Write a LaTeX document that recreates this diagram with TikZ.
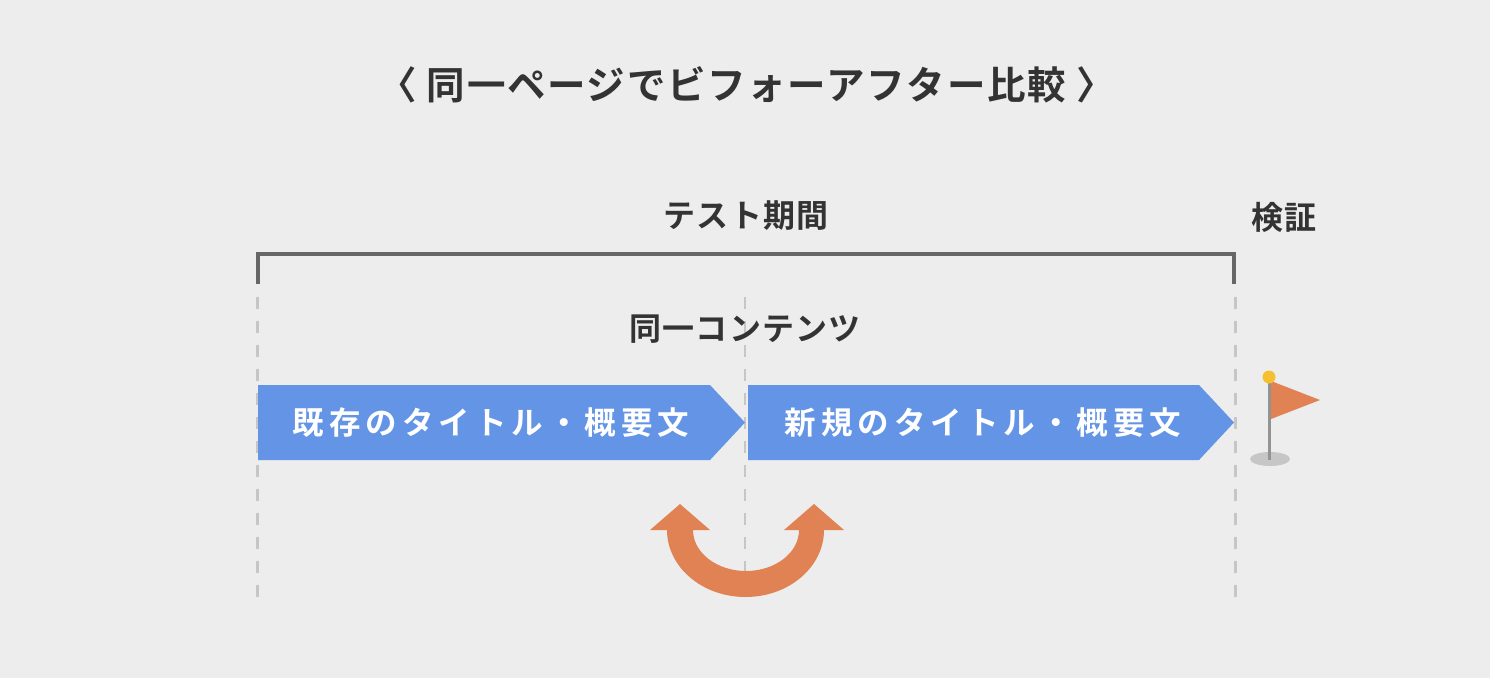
\documentclass[tikz,border=0pt]{standalone}
\usepackage{fontspec}
\usepackage{xcolor}
\usetikzlibrary{shapes.symbols}
\setmainfont{Noto Sans CJK JP}
\newfontfamily\titlefont[LetterSpace=4.4,BoldFont={Noto Sans CJK JP Bold}]{Noto Sans CJK JP}
\newfontfamily\headfont[LetterSpace=4,BoldFont={Noto Sans CJK JP Bold}]{Noto Sans CJK JP}
\newfontfamily\barfont[LetterSpace=16,BoldFont={Noto Sans CJK JP Bold}]{Noto Sans CJK JP}
\definecolor{pagegray}{HTML}{EDEDED}
\definecolor{barblue}{HTML}{6394E6}
\definecolor{swaporange}{HTML}{E08254}
\definecolor{inkgray}{HTML}{333333}
\definecolor{rulegray}{HTML}{666666}
\definecolor{guidegray}{HTML}{C6C6C6}
\definecolor{poleyellow}{HTML}{F5C030}

\begin{document}
\begin{tikzpicture}[
  x=1pt, y=1pt,
  heading/.style={text=inkgray, inner sep=0pt, font=\headfont\bfseries\fontsize{32}{36}\selectfont},
  titletext/.style={text=inkgray, inner sep=0pt, font=\titlefont\bfseries\fontsize{38.5}{42}\selectfont},
  barbox/.style={signal, signal to=east, signal pointer angle=94, fill=barblue, inner sep=0pt, outer sep=0pt, anchor=west, minimum width=487pt, minimum height=75pt},
  barlabel/.style={text=white, inner sep=0pt, font=\barfont\bfseries\fontsize{31.5}{36}\selectfont},
  guide/.style={guidegray, line width=2.5pt, dash pattern=on 12pt off 12pt}
]

\useasboundingbox[fill=pagegray] (0,0) rectangle (1490,-678);

% guides
\coordinate (guideA) at (257.5,-297);
\coordinate (guideB) at (745,-297);
\coordinate (guideC) at (1235.5,-297);
\draw[guide] (guideA) -- (257.5,-598);
\draw[guide] (guideB) -- (745,-598);
\draw[guide] (guideC) -- (1235.5,-598);

\node[titletext] (title) at (746.5,-85) {〈 同一ページでビフォーアフター比較 〉};
\node[heading] (period) at (746,-215.5) {テスト期間};
\node[heading] (verify) at (1284,-217.5) {検証};
\node[heading] (same) at (745,-329.5) {同一コンテンツ};

% bracket
\draw[rulegray, line width=4pt] (258,-284) -- (258,-254) -- (1234,-254) -- (1234,-284);

\node[barbox] (oldbar) at (258,-422.5) {};
\node[barbox, minimum width=486pt] (newbar) at (748,-422.5) {};
\node[barlabel] (oldlabel) at (491,-422.5) {既存のタイトル・概要文};
\node[barlabel] (newlabel) at (983,-422.5) {新規のタイトル・概要文};

% swap arrow
\fill[swaporange] (680,-504) -- (710,-530) -- (693,-530)
  arc[start angle=180, end angle=360, x radius=53, y radius=41]
  -- (784,-530) -- (814,-504) -- (844,-530) -- (824,-530)
  arc[start angle=0, end angle=-180, x radius=78.5, y radius=67]
  -- (650,-530) -- cycle;

% flag
\fill[guidegray] (1270,-459) ellipse[x radius=20, y radius=7];
\fill[swaporange] (1271,-381) -- (1320,-400) -- (1271,-419) -- cycle;
\draw[gray!85, line width=3pt] (1269.5,-377) -- (1269.5,-460);
\fill[poleyellow] (1269,-377) circle[radius=6.5];

\end{tikzpicture}
\end{document}
